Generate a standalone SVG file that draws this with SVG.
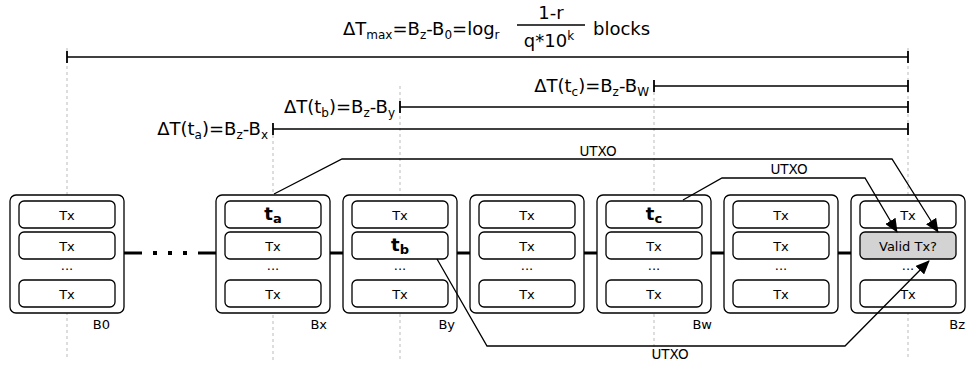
<svg xmlns="http://www.w3.org/2000/svg" width="966" height="368" viewBox="0 0 966 368">
<style>
text{font-family:"DejaVu Sans","Liberation Sans",sans-serif;fill:#000}
.guide{stroke:#bbb;stroke-width:1;stroke-dasharray:3 3;fill:none}
.outer{fill:#fff;stroke:#000;stroke-width:1.3}
.inner{fill:#fff;stroke:#000;stroke-width:1.3}
.valid{fill:#d3d3d3;stroke:#000;stroke-width:1.3}
.tx{font-size:13px;text-anchor:middle}
.bt{font-size:18px;font-weight:bold;text-anchor:middle}
.lbl{font-size:13px;text-anchor:end}
.f{font-size:18px}
.d{font-size:18px;text-anchor:end}
.chain{stroke:#000;stroke-width:3;fill:none}
.dim{stroke:#000;stroke-width:1.3;fill:none}
.tick{stroke:#000;stroke-width:1.8;fill:none}
.conn{stroke:#000;stroke-width:1.3;fill:none}
.ut{font-size:13.5px;text-anchor:middle}
</style>
<defs>
<marker id="ah" markerUnits="userSpaceOnUse" markerWidth="14" markerHeight="12" refX="13" refY="6" orient="auto">
<path d="M0,0 L14,6 L0,12 z" fill="#000"/>
</marker>
</defs>

<g id="guides">
<line class="guide" x1="67" y1="48" x2="67" y2="360"/>
<line class="guide" x1="273" y1="129" x2="273" y2="360"/>
<line class="guide" x1="400" y1="86" x2="400" y2="360"/>
<line class="guide" x1="654" y1="86" x2="654" y2="360"/>
<line class="guide" x1="908" y1="48" x2="908" y2="360"/>
</g>

<g id="formula">
<text class="f" x="343" y="35">ΔT<tspan font-size="12" dy="4">max</tspan><tspan dy="-4">=B</tspan><tspan font-size="12" dy="4">z</tspan><tspan dy="-4">-B</tspan><tspan font-size="12" dy="4">0</tspan><tspan dy="-4">=log</tspan><tspan font-size="12" dy="4">r</tspan></text>
<line x1="517" y1="25" x2="585" y2="25" stroke="#000" stroke-width="1.3"/>
<text class="f" x="551" y="19" text-anchor="middle">1-r</text>
<text class="f" x="549" y="47" text-anchor="middle">q*10<tspan font-size="12" dy="-7">k</tspan></text>
<text class="f" x="593" y="35">blocks</text>
</g>

<g id="dimensions">
<line class="dim" x1="67" y1="57" x2="908" y2="57"/>
<line class="tick" x1="67" y1="51" x2="67" y2="63"/>
<line class="tick" x1="908" y1="51" x2="908" y2="63"/>

<line class="dim" x1="654" y1="86" x2="908" y2="86"/>
<line class="tick" x1="654" y1="80" x2="654" y2="92"/>
<line class="tick" x1="908" y1="80" x2="908" y2="92"/>
<text class="d" x="649" y="92">ΔT(t<tspan font-size="12" dy="4">c</tspan><tspan dy="-4">)=B</tspan><tspan font-size="12" dy="4">z</tspan><tspan dy="-4">-B</tspan><tspan font-size="12" dy="4">W</tspan></text>

<line class="dim" x1="400" y1="107" x2="908" y2="107"/>
<line class="tick" x1="400" y1="101" x2="400" y2="113"/>
<line class="tick" x1="908" y1="101" x2="908" y2="113"/>
<text class="d" x="395" y="113">ΔT(t<tspan font-size="12" dy="4">b</tspan><tspan dy="-4">)=B</tspan><tspan font-size="12" dy="4">z</tspan><tspan dy="-4">-B</tspan><tspan font-size="12" dy="4">y</tspan></text>

<line class="dim" x1="273" y1="129" x2="908" y2="129"/>
<line class="tick" x1="273" y1="123" x2="273" y2="135"/>
<line class="tick" x1="908" y1="123" x2="908" y2="135"/>
<text class="d" x="268" y="135">ΔT(t<tspan font-size="12" dy="4">a</tspan><tspan dy="-4">)=B</tspan><tspan font-size="12" dy="4">z</tspan><tspan dy="-4">-B</tspan><tspan font-size="12" dy="4">x</tspan></text>
</g>

<g id="chain">
<line class="chain" x1="124" y1="253" x2="142" y2="253"/>
<rect x="153" y="251" width="4" height="4" fill="#000"/>
<rect x="168" y="251" width="4" height="4" fill="#000"/>
<rect x="183" y="251" width="4" height="4" fill="#000"/>
<line class="chain" x1="198" y1="253" x2="216" y2="253"/>
<line class="chain" x1="330" y1="253" x2="343" y2="253"/>
<line class="chain" x1="457" y1="253" x2="470" y2="253"/>
<line class="chain" x1="584" y1="253" x2="597" y2="253"/>
<line class="chain" x1="711" y1="253" x2="724" y2="253"/>
<line class="chain" x1="838" y1="253" x2="851" y2="253"/>
</g>

<g id="B0">
<rect class="outer" x="10" y="195" width="114" height="118" rx="6"/>
<rect class="inner" x="19" y="201" width="96" height="27" rx="5"/>
<rect class="inner" x="19" y="232" width="96" height="27" rx="5"/>
<rect class="inner" x="19" y="280" width="96" height="27" rx="5"/>
<text class="tx" x="67" y="219.5">Tx</text>
<text class="tx" x="67" y="250.5">Tx</text>
<text class="tx" x="67" y="270">...</text>
<text class="tx" x="67" y="298.5">Tx</text>
<text class="lbl" x="110" y="329">B0</text>
</g>

<g id="Bx">
<rect class="outer" x="216" y="195" width="114" height="118" rx="6"/>
<rect class="inner" x="225" y="201" width="96" height="27" rx="5"/>
<rect class="inner" x="225" y="232" width="96" height="27" rx="5"/>
<rect class="inner" x="225" y="280" width="96" height="27" rx="5"/>
<text class="bt" x="273" y="220">t<tspan font-size="13" dy="3">a</tspan></text>
<text class="tx" x="273" y="250.5">Tx</text>
<text class="tx" x="273" y="270">...</text>
<text class="tx" x="273" y="298.5">Tx</text>
<text class="lbl" x="327" y="329">Bx</text>
</g>

<g id="By">
<rect class="outer" x="343" y="195" width="114" height="118" rx="6"/>
<rect class="inner" x="352" y="201" width="96" height="27" rx="5"/>
<rect class="inner" x="352" y="232" width="96" height="27" rx="5"/>
<rect class="inner" x="352" y="280" width="96" height="27" rx="5"/>
<text class="tx" x="400" y="219.5">Tx</text>
<text class="bt" x="400" y="251">t<tspan font-size="13" dy="3">b</tspan></text>
<text class="tx" x="400" y="270">...</text>
<text class="tx" x="400" y="298.5">Tx</text>
<text class="lbl" x="455" y="329">By</text>
</g>

<g id="B4">
<rect class="outer" x="470" y="195" width="114" height="118" rx="6"/>
<rect class="inner" x="479" y="201" width="96" height="27" rx="5"/>
<rect class="inner" x="479" y="232" width="96" height="27" rx="5"/>
<rect class="inner" x="479" y="280" width="96" height="27" rx="5"/>
<text class="tx" x="527" y="219.5">Tx</text>
<text class="tx" x="527" y="250.5">Tx</text>
<text class="tx" x="527" y="270">...</text>
<text class="tx" x="527" y="298.5">Tx</text>
</g>

<g id="Bw">
<rect class="outer" x="597" y="195" width="114" height="118" rx="6"/>
<rect class="inner" x="606" y="201" width="96" height="27" rx="5"/>
<rect class="inner" x="606" y="232" width="96" height="27" rx="5"/>
<rect class="inner" x="606" y="280" width="96" height="27" rx="5"/>
<text class="bt" x="654" y="220">t<tspan font-size="13" dy="3">c</tspan></text>
<text class="tx" x="654" y="250.5">Tx</text>
<text class="tx" x="654" y="270">...</text>
<text class="tx" x="654" y="298.5">Tx</text>
<text class="lbl" x="712" y="329">Bw</text>
</g>

<g id="B6">
<rect class="outer" x="724" y="195" width="114" height="118" rx="6"/>
<rect class="inner" x="733" y="201" width="96" height="27" rx="5"/>
<rect class="inner" x="733" y="232" width="96" height="27" rx="5"/>
<rect class="inner" x="733" y="280" width="96" height="27" rx="5"/>
<text class="tx" x="781" y="219.5">Tx</text>
<text class="tx" x="781" y="250.5">Tx</text>
<text class="tx" x="781" y="270">...</text>
<text class="tx" x="781" y="298.5">Tx</text>
</g>

<g id="Bz">
<rect class="outer" x="851" y="195" width="114" height="118" rx="6"/>
<rect class="inner" x="860" y="201" width="96" height="27" rx="5"/>
<rect class="valid" x="860" y="232" width="96" height="27" rx="5"/>
<rect class="inner" x="860" y="280" width="96" height="27" rx="5"/>
<text class="tx" x="908" y="219.5">Tx</text>
<text class="tx" x="908" y="250.5">Valid Tx?</text>
<text class="tx" x="908" y="270">...</text>
<text class="tx" x="908" y="298.5">Tx</text>
<text class="lbl" x="965" y="329">Bz</text>
</g>

<g id="connectors">
<path class="conn" d="M274,194 L342,159 L892,159 L938,232" marker-end="url(#ah)"/>
<text class="ut" x="598" y="156">UTXO</text>
<path class="conn" d="M683,200 L722,178 L865,178 L897,232" marker-end="url(#ah)"/>
<text class="ut" x="789" y="174">UTXO</text>
<path class="conn" d="M437,259 L487,346 L845,346 L929,261" marker-end="url(#ah)"/>
<text class="ut" x="670" y="359">UTXO</text>
</g>
</svg>
